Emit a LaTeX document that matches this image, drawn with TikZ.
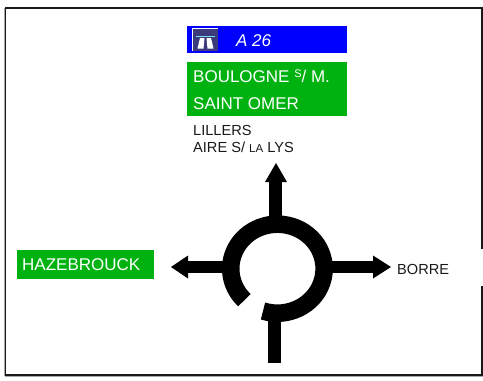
\documentclass[tikz,border=0pt]{standalone}
\usepackage{fontspec}
\setmainfont{Liberation Sans}
\definecolor{signgreen}{RGB}{0,178,16}
\definecolor{signblue}{RGB}{0,0,255}
\definecolor{iconnavy}{RGB}{58,58,125}
\definecolor{iconbar}{RGB}{120,225,235}
\tikzset{
  frameline/.style={line width=1.3pt,draw=black!90},
  lbl/.style={anchor=base west,inner sep=0pt,font=\fontsize{14.6}{16}\selectfont,text=black!90},
  signtext/.style={anchor=base west,inner sep=0pt,font=\fontsize{17}{19}\selectfont,text=white},
  road/.style={line width=12.5pt,draw=black},
  head/.style={fill=black,draw=none}
}
\begin{document}
\begin{tikzpicture}[x=1pt,y=-1pt]
\useasboundingbox (0,0) rectangle (483,381);
% frame, open beside BORRE
\draw[black!35,line width=0.8pt] (5,376) -- (482.5,376);
\draw[black!35,line width=0.8pt] (4.6,8) -- (4.6,376);
\draw[frameline] (482,249) -- (482,8) -- (5.5,8) -- (5.5,375) -- (482,375) -- (482,286);
% panels
\fill[signblue] (187,26) rectangle (347,53);
\fill[signgreen] (187,62) rectangle (347,116);
\fill[signgreen] (17,250) rectangle (154,279);
% motorway icon
\fill[iconnavy] (192.5,28) rectangle (218,51);
\draw[white,line width=0.8pt] (192.5,51) -- (192.5,28) -- (218,28);
\fill[iconbar] (196,35.5) rectangle (215,37);
\fill[white] (200,38) -- (204.5,38) -- (203.5,48.5) -- (197.5,48.5) -- cycle;
\fill[white] (206.5,38) -- (211,38) -- (213.5,48.5) -- (207.5,48.5) -- cycle;
% texts
\node[signtext,font=\fontsize{17}{19}\selectfont\itshape] (a26) at (236,46) {A 26};
\node[signtext] (boulogne) at (193,82) {BOULOGNE \raisebox{5pt}{\fontsize{11}{12}\selectfont S}/ M.};
\node[signtext] (omer) at (193,109) {SAINT OMER};
\node[lbl] (lillers) at (193,135) {LILLERS};
\node[lbl] (aire) at (193,152) {AIRE S/ {\fontsize{11.5}{12}\selectfont LA} LYS};
\node[signtext] (haze) at (22,270) {HAZEBROUCK};
\node[lbl] (borre) at (397,274) {BORRE};
% roads
\draw[road] (275.5,222) -- (275.5,182);
\fill[head] (276,163) -- (287,182) -- (265,182) -- cycle;
\draw[road] (228,267) -- (188,267);
\fill[head] (171,267) -- (188,255.5) -- (188,278.5) -- cycle;
\draw[road] (328,267) -- (373,267);
\fill[head] (391,267) -- (373,255.5) -- (373,278.5) -- cycle;
\draw[road] (274.5,316) -- (274.5,363);
% ring
\draw[line width=17.5pt,draw=black] (263,311) arc[start angle=252,end angle=585,x radius=46.7,y radius=-44.5];
\end{tikzpicture}
\end{document}
